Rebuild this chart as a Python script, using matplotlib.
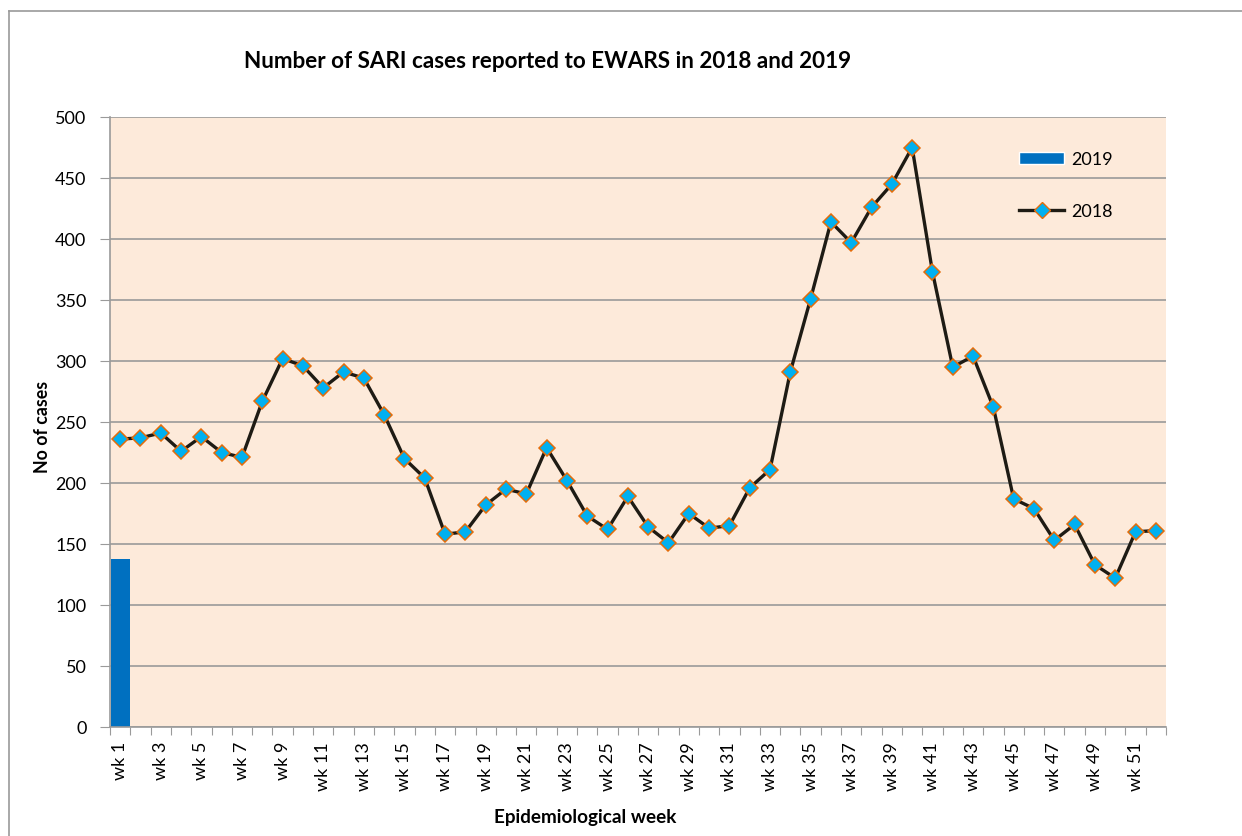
import matplotlib.pyplot as plt
from matplotlib.lines import Line2D
from matplotlib.patches import Patch

weeks = ["wk %d" % i for i in range(1, 53)]
cases_2018 = [236, 237, 241, 226, 238, 225, 221, 267, 302, 296,
              278, 291, 286, 256, 220, 204, 158, 160, 182, 195,
              191, 229, 202, 173, 162, 189, 164, 151, 175, 163,
              165, 196, 211, 291, 351, 414, 397, 426, 445, 475,
              373, 295, 304, 262, 187, 179, 153, 166, 133, 122,
              160, 161]
cases_2019 = [138]

plt.rcParams['font.family'] = ['Lato', 'DejaVu Sans']

fig = plt.figure(figsize=(12.42, 8.37), dpi=100)
ax = fig.add_axes([110 / 1242, 1 - 728 / 837, 1056 / 1242, 610 / 837])
ax.set_facecolor('#FDEADA')

x = list(range(len(weeks)))
ax.bar(x[:len(cases_2019)], cases_2019, width=0.94, color='#0070C0', zorder=2)
ax.plot(x, cases_2018, color='#1E1B14', lw=2.4, marker='D', markersize=8.5,
        markerfacecolor='#00B0F0', markeredgecolor='#E46C0A', markeredgewidth=1.1,
        zorder=3)

ax.set_xlim(-0.5, len(weeks) - 0.5)
ax.set_ylim(0, 500)
ax.set_yticks(range(0, 501, 50))
ax.yaxis.grid(True, color='#9A9A9A', lw=1.2, zorder=1)
ax.set_axisbelow(True)

ax.set_xticks([i - 0.5 for i in range(len(weeks) + 1)])
ax.set_xticklabels([])
ax.set_xticks(x[::2], minor=True)
ax.set_xticklabels(weeks[::2], minor=True, rotation=90, fontsize=13)
ax.tick_params(axis='x', which='minor', length=0, pad=10)
ax.tick_params(axis='x', which='major', length=6, color='#9A9A9A')
ax.tick_params(axis='y', length=7, color='#9A9A9A', labelsize=13, pad=10)

for s in ['top', 'right']:
    ax.spines[s].set_visible(False)
for s in ['left', 'bottom']:
    ax.spines[s].set_color('#9A9A9A')
    ax.spines[s].set_linewidth(1.2)

fig.text(548 / 1242, 1 - 62 / 837, 'Number of SARI cases reported to EWARS in 2018 and 2019',
         ha='center', va='center', fontsize=16.2, fontweight='bold')
fig.text(42 / 1242, 1 - 427 / 837, 'No of cases', rotation=90,
         ha='center', va='center', fontsize=12.8, fontweight='bold')
fig.text(585 / 1242, 1 - 818 / 837, 'Epidemiological week',
         ha='center', va='center', fontsize=13.6, fontweight='bold')

handles = [Patch(facecolor='#0070C0', edgecolor='white'),
           Line2D([0], [0], color='#1E1B14', lw=2.4, marker='D', markersize=8.5,
                  markerfacecolor='#00B0F0', markeredgecolor='#E46C0A')]
fig.legend(handles, ['2019', '2018'], loc='upper left',
           bbox_to_anchor=(1003 / 1242, 1 - 136 / 837), frameon=False,
           fontsize=13, handlelength=2.5, handleheight=0.6, labelspacing=2.0,
           handletextpad=0.35)

# outer chart frame
fig.add_artist(Line2D([9 / 1242, 9 / 1242], [0, 1 - 12 / 837], color='#9A9A9A', lw=1.2))
fig.add_artist(Line2D([9 / 1242, 1], [1 - 12 / 837, 1 - 12 / 837], color='#9A9A9A', lw=1.2))

fig.savefig('out.png', dpi=100)
